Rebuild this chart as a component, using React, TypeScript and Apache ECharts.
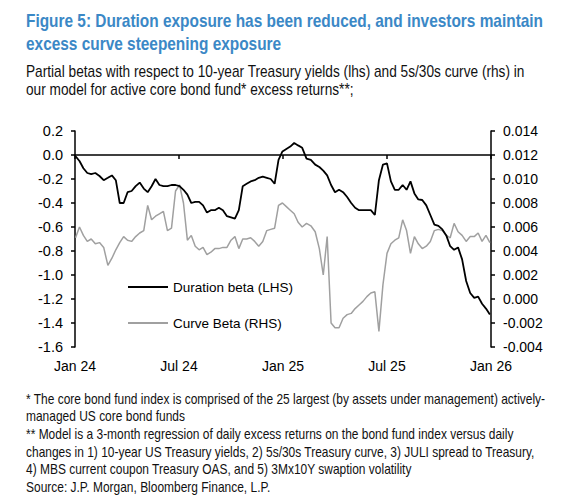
import React, { useEffect, useRef } from "react";
import * as echarts from "echarts";

const titleLines = [
  "Figure 5: Duration exposure has been reduced, and investors maintain",
  "excess curve steepening exposure",
];
const subtitleLines = [
  "Partial betas with respect to 10-year Treasury yields (lhs) and 5s/30s curve (rhs) in",
  "our model for active core bond fund* excess returns**;",
];
const footnoteLines = [
  "* The core bond fund index is comprised of the 25 largest (by assets under management) actively-",
  "managed US core bond funds",
  "** Model is a 3-month regression of daily excess returns on the bond fund index versus daily",
  "changes in 1) 10-year US Treasury yields, 2) 5s/30s Treasury curve, 3) JULI spread to Treasury,",
  "4) MBS current coupon Treasury OAS, and 5) 3Mx10Y swaption volatility",
  "Source: J.P. Morgan, Bloomberg Finance, L.P.",
];

const xTickLabels = ["Jan 24", "Jul 24", "Jan 25", "Jul 25", "Jan 26"];
const seriesNames = ["Duration beta (LHS)", "Curve Beta (RHS)"];
const firstWeek = "2024-01-02";

// weekly readings, left axis
const durationBeta = [
  -0.01, -0.05, -0.11, -0.15, -0.16, -0.15, -0.175, -0.21, -0.19, -0.17,
  -0.21, -0.4, -0.4, -0.31, -0.3, -0.26, -0.23, -0.28, -0.31, -0.26,
  -0.2, -0.25, -0.26, -0.26, -0.25, -0.25, -0.26, -0.29, -0.33, -0.4,
  -0.39, -0.39, -0.42, -0.48, -0.46, -0.46, -0.44, -0.46, -0.51, -0.52,
  -0.53, -0.46, -0.26, -0.24, -0.22, -0.21, -0.19, -0.18, -0.19, -0.2,
  -0.24, -0.04, 0.03, 0.05, 0.07, 0.1, 0.08, 0.06, -0.03, -0.04,
  -0.08, -0.1, -0.13, -0.17, -0.25, -0.31, -0.29, -0.31, -0.35, -0.4,
  -0.44, -0.46, -0.46, -0.46, -0.46, -0.5, -0.21, -0.08, -0.07, -0.22,
  -0.29, -0.29, -0.25, -0.29, -0.22, -0.32, -0.37, -0.375, -0.42, -0.5,
  -0.58, -0.59, -0.62, -0.67, -0.76, -0.79, -0.77, -0.87, -1.05, -1.15,
  -1.19, -1.18, -1.24, -1.28, -1.33,
];

// weekly readings, right axis
const curveBeta = [
  0.0051, 0.006, 0.0053, 0.0048, 0.005, 0.0046, 0.0047, 0.0043, 0.0028, 0.0034,
  0.0041, 0.0047, 0.0052, 0.0049, 0.0048, 0.0052, 0.0055, 0.0057, 0.0078, 0.0066,
  0.0069, 0.0071, 0.0073, 0.0057, 0.0059, 0.009, 0.0095, 0.008, 0.0049, 0.0053,
  0.0044, 0.0041, 0.0043, 0.0037, 0.0039, 0.0042, 0.0042, 0.0043, 0.0043, 0.0049,
  0.0052, 0.0042, 0.005, 0.005, 0.0051, 0.0048, 0.0044, 0.0048, 0.0057, 0.0058,
  0.0059, 0.0078, 0.008, 0.0077, 0.0074, 0.0071, 0.0064, 0.006, 0.0063, 0.0061,
  0.0056, 0.0042, 0.002, 0.0052, -0.002, -0.0024, -0.0024, -0.0016, -0.0013, -0.0012,
  -0.0008, -0.0005, -0.0002, 0.0002, 0.0005, 0.0006, -0.0027, 0.0012, 0.0038, 0.0046,
  0.0049, 0.0051, 0.0066, 0.0057, 0.0038, 0.0052, 0.0046, 0.0042, 0.0044, 0.0048,
  0.0057, 0.0058, 0.0057, 0.0053, 0.0051, 0.0063, 0.0056, 0.0053, 0.0048, 0.0052,
  0.0052, 0.0055, 0.0048, 0.0053, 0.0047,
];

const FONT = "'Liberation Sans',Arial,Helvetica,sans-serif";

function monthPos(d: Date): number {
  const y = d.getUTCFullYear();
  const m = d.getUTCMonth();
  const dim = new Date(Date.UTC(y, m + 1, 0)).getUTCDate();
  return (y - 2024) * 12 + m + (d.getUTCDate() - 1) / dim;
}

const start = Date.parse(firstWeek + "T00:00:00Z");
const xs = durationBeta.map((_, i) => monthPos(new Date(start + i * 7 * 86400000)));

export default function App() {
  const ref = useRef<HTMLDivElement>(null);
  useEffect(() => {
    if (!ref.current) return;
    const chart = echarts.init(ref.current, undefined, { renderer: "svg" });
    const texts: any[] = [];
    titleLines.forEach((t, i) =>
      texts.push({
        type: "text",
        x: 26,
        y: 21 + i * 23,
        scaleX: 0.856,
        style: { text: t, fill: "#3b88c6", font: `bold 18px ${FONT}`, verticalAlign: "middle" },
      })
    );
    subtitleLines.forEach((t, i) =>
      texts.push({
        type: "text",
        x: 26,
        y: 72 + i * 18,
        scaleX: 0.855,
        style: { text: t, fill: "#111", font: `16px ${FONT}`, verticalAlign: "middle" },
      })
    );
    footnoteLines.forEach((t, i) =>
      texts.push({
        type: "text",
        x: 26,
        y: 399 + i * 17.6,
        scaleX: 0.855,
        style: { text: t, fill: "#111", font: `14px ${FONT}`, verticalAlign: "middle" },
      })
    );
    chart.setOption({
      animation: false,
      backgroundColor: "#fff",
      textStyle: { fontFamily: FONT },
      grid: { left: 75, right: 87, top: 131, bottom: 153, containLabel: false },
      legend: {
        orient: "vertical",
        left: 127,
        top: 280,
        padding: 0,
        itemWidth: 40,
        itemHeight: 14,
        itemGap: 22,
        data: seriesNames,
        itemStyle: { opacity: 0 },
        textStyle: { fontSize: 13.5, color: "#000", fontFamily: FONT },
      },
      xAxis: [
        {
          type: "value",
          min: 0,
          max: 24,
          interval: 6,
          position: "bottom",
          axisLine: { show: false, onZero: false },
          axisTick: { show: false },
          splitLine: { show: false },
          axisLabel: {
            margin: 12,
            fontSize: 14,
            color: "#000",
            fontFamily: FONT,
            formatter: (v: number) => xTickLabels[Math.round(v / 6)] ?? "",
          },
        },
        {
          type: "value",
          min: 0,
          max: 24,
          interval: 6,
          position: "bottom",
          axisLine: { show: true, onZero: true, onZeroAxisIndex: 0, lineStyle: { color: "#000", width: 1.5 } },
          axisTick: { show: true, length: 4, lineStyle: { color: "#000", width: 1.5 } },
          axisLabel: { show: false },
          splitLine: { show: false },
        },
      ],
      yAxis: [
        {
          type: "value",
          min: -1.6,
          max: 0.2,
          interval: 0.2,
          position: "left",
          axisLine: { show: true, onZero: false, lineStyle: { color: "#000", width: 1.5 } },
          axisTick: { show: true, length: 4, lineStyle: { color: "#000", width: 1.5 } },
          splitLine: { show: false },
          axisLabel: {
            margin: 12,
            fontSize: 14.5,
            color: "#000",
            fontFamily: FONT,
            formatter: (v: number) => (Math.abs(v) < 1e-9 ? "0.0" : v.toFixed(1)),
          },
        },
        {
          type: "value",
          min: -0.004,
          max: 0.014,
          interval: 0.002,
          position: "right",
          axisLine: { show: true, onZero: false, lineStyle: { color: "#000", width: 1.5 } },
          axisTick: { show: true, length: 4, lineStyle: { color: "#000", width: 1.5 } },
          splitLine: { show: false },
          axisLabel: {
            margin: 12,
            fontSize: 14,
            color: "#000",
            fontFamily: FONT,
            formatter: (v: number) => (Math.abs(v) < 1e-9 ? "0.000" : v.toFixed(3)),
          },
        },
      ],
      series: [
        {
          name: seriesNames[0],
          type: "line",
          xAxisIndex: 0,
          yAxisIndex: 0,
          symbol: "none",
          z: 3,
          lineStyle: { color: "#000", width: 1.8 },
          itemStyle: { color: "#000" },
          data: durationBeta.map((v, i) => [xs[i], v]),
        },
        {
          name: seriesNames[1],
          type: "line",
          xAxisIndex: 0,
          yAxisIndex: 1,
          symbol: "none",
          z: 2,
          lineStyle: { color: "#a0a0a0", width: 1.5 },
          itemStyle: { color: "#a0a0a0" },
          data: curveBeta.map((v, i) => [xs[i], v]),
        },
      ],
      graphic: texts,
    });
    return () => chart.dispose();
  }, []);
  return (
    <div
      ref={ref}
      style={{ position: "fixed", left: 0, top: 0, width: 578, height: 500, background: "#fff" }}
    />
  );
}
